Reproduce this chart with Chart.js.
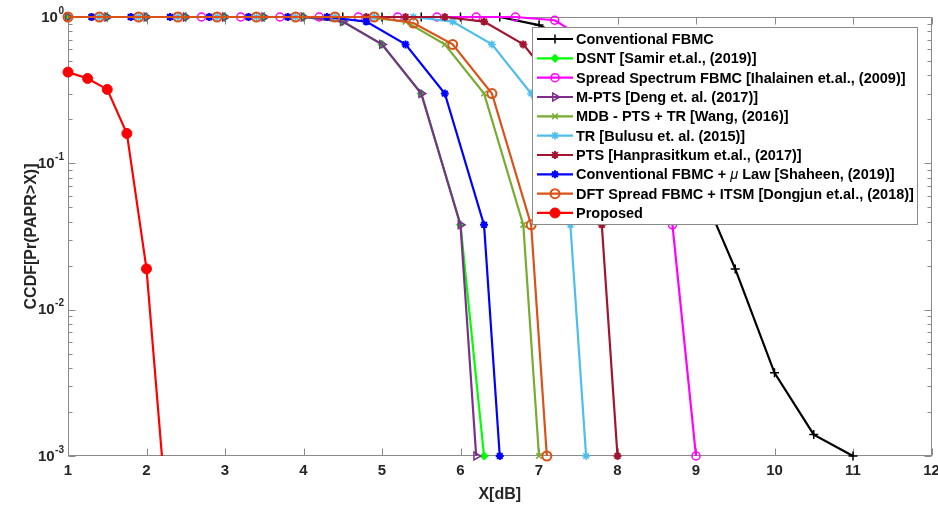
<!DOCTYPE html>
<html>
<head>
<meta charset="utf-8">
<script src="https://cdn.jsdelivr.net/npm/chart.js@4.4.0/dist/chart.umd.min.js"></script>
<style>
  html, body { margin: 0; padding: 0; background: #fff; }
  canvas { display: block; }
</style>
</head>
<body>
<canvas id="c" width="938" height="506"></canvas>
<script>
// ---- Dados ----
const seriesNames = [
  'Conventional FBMC',
  'DSNT [Samir et.al., (2019)]',
  'Spread Spectrum FBMC [Ihalainen et.al., (2009)]',
  'M-PTS [Deng et. al. (2017)]',
  'MDB - PTS + TR [Wang, (2016)]',
  'TR [Bulusu et. al. (2015)]',
  'PTS [Hanprasitkum et.al., (2017)]',
  'Conventional FBMC + \u03bc Law [Shaheen, (2019)]',
  'DFT Spread FBMC + ITSM [Dongjun et.al., (2018)]',
  'Proposed'
];

const convX = [1, 1.5, 2, 2.5, 3, 3.5, 4, 4.5, 5, 5.5, 6, 6.5, 7, 7.5, 8, 8.5, 9, 9.5, 10, 10.5, 11];
const convY = [1, 1, 1, 1, 1, 1, 1, 1, 1, 1, 1, 1, 0.88, 0.65, 0.4, 0.2, 0.08, 0.019, 0.0037, 0.0014, 0.001];

const dsntX = [1, 1.5, 2, 2.5, 3, 3.5, 4, 4.5, 5, 5.5, 6, 6.3];
const dsntY = [1, 1, 1, 1, 1, 1, 1, 0.93, 0.65, 0.3, 0.038, 0.001];

const spreadX = [2.7, 3.2, 3.7, 4.2, 4.7, 5.2, 5.7, 6.2, 6.7, 7.2, 7.7, 8.2, 8.7, 9.0];
const spreadY = [1, 1, 1, 1, 1, 1, 1, 1, 1, 0.95, 0.65, 0.3, 0.038, 0.001];

const mptsX = [1, 1.5, 2, 2.5, 3, 3.5, 4, 4.5, 5, 5.5, 6, 6.2];
const mptsY = [1, 1, 1, 1, 1, 1, 1, 0.93, 0.65, 0.3, 0.038, 0.001];

const mdbX = [1.3, 1.8, 2.3, 2.8, 3.3, 3.8, 4.3, 4.8, 5.3, 5.8, 6.3, 6.8, 7.0];
const mdbY = [1, 1, 1, 1, 1, 1, 1, 1, 0.93, 0.65, 0.3, 0.038, 0.001];

const trX = [1.4, 1.9, 2.4, 2.9, 3.4, 3.9, 4.4, 4.9, 5.4, 5.9, 6.4, 6.9, 7.4, 7.6];
const trY = [1, 1, 1, 1, 1, 1, 1, 1, 1, 0.93, 0.65, 0.3, 0.038, 0.001];

const ptsX = [1.3, 1.8, 2.3, 2.8, 3.3, 3.8, 4.3, 4.8, 5.3, 5.8, 6.3, 6.8, 7.3, 7.8, 8.0];
const ptsY = [1, 1, 1, 1, 1, 1, 1, 1, 1, 1, 0.93, 0.65, 0.3, 0.038, 0.001];

const muLawX = [1.3, 1.8, 2.3, 2.8, 3.3, 3.8, 4.3, 4.8, 5.3, 5.8, 6.3, 6.5];
const muLawY = [1, 1, 1, 1, 1, 1, 1, 0.93, 0.65, 0.3, 0.038, 0.001];

const dftX = [1, 1.4, 1.9, 2.4, 2.9, 3.4, 3.9, 4.4, 4.9, 5.4, 5.9, 6.4, 6.9, 7.1];
const dftY = [1, 1, 1, 1, 1, 1, 1, 1, 1, 0.91, 0.65, 0.3, 0.038, 0.001];

const propX = [1, 1.25, 1.5, 1.75, 2, 2.25];
const propY = [0.42, 0.38, 0.32, 0.16, 0.019, 0.00045];

const xTicks = [1, 2, 3, 4, 5, 6, 7, 8, 9, 10, 11, 12];
const yTicks = [1, 0.1, 0.01, 0.001];
const yTickExp = ['0', '-1', '-2', '-3'];

// ---- Estilos ----
const FONT = '"Liberation Sans", Arial, Helvetica, sans-serif';
const axisGray = '#8a8a8a';
const textGray = '#262626';

const styles = [
  { color: '#000000', pointStyle: 'cross',    radius: 4.5, fill: '#000000', bw: 1.5 },
  { color: '#00ff00', pointStyle: 'rectRot',  radius: 3.5, fill: '#00ff00', bw: 1.5 },
  { color: '#ff00ff', pointStyle: 'circle',   radius: 4,   fill: 'rgba(0,0,0,0)', bw: 1.5 },
  { color: '#7e2f8e', pointStyle: 'triangle', radius: 4.5, fill: 'rgba(0,0,0,0)', bw: 1.5, rot: 90 },
  { color: '#77ac30', pointStyle: 'crossRot', radius: 4,   fill: '#77ac30', bw: 1.5 },
  { color: '#4dbeee', pointStyle: 'star',     radius: 4,   fill: '#4dbeee', bw: 1.5 },
  { color: '#a2142f', pointStyle: 'star',     radius: 4,   fill: '#a2142f', bw: 2 },
  { color: '#0000ff', pointStyle: 'star',     radius: 4,   fill: '#0000ff', bw: 2 },
  { color: '#d95319', pointStyle: 'circle',   radius: 4.5, fill: 'rgba(0,0,0,0)', bw: 2 },
  { color: '#ff0000', pointStyle: 'circle',   radius: 5,   fill: '#ff0000', bw: 1 }
];

const xs = [convX, dsntX, spreadX, mptsX, mdbX, trX, ptsX, muLawX, dftX, propX];
const ys = [convY, dsntY, spreadY, mptsY, mdbY, trY, ptsY, muLawY, dftY, propY];

const datasets = seriesNames.map((name, i) => {
  const s = styles[i];
  return {
    label: name,
    data: xs[i].map((x, k) => ({ x: x, y: ys[i][k] })),
    borderColor: s.color,
    borderWidth: 2.2,
    pointStyle: s.pointStyle,
    pointRadius: s.radius,
    pointRotation: s.rot || 0,
    pointBackgroundColor: s.fill,
    pointBorderColor: s.color,
    pointBorderWidth: s.bw,
    tension: 0,
    order: seriesNames.length - i,
    // a curva Proposed desce abaixo de 1e-3: corta só embaixo
    clip: i === seriesNames.length - 1 ? { left: 10, top: 10, right: 10, bottom: 0 } : false
  };
});

// ---- Caixa, ticks internos e rótulos 10^n (estilo MATLAB) ----
const boxPlugin = {
  id: 'box',
  beforeDatasetsDraw(chart) {
    const { ctx, chartArea: a, scales: { x, y } } = chart;
    ctx.save();
    ctx.strokeStyle = axisGray;
    ctx.lineWidth = 1;
    const L = Math.round(a.left) + 0.5, R = Math.round(a.right) - 0.5;
    const T = Math.round(a.top) + 0.5, B = Math.round(a.bottom) - 0.5;
    ctx.strokeRect(L, T, R - L, B - T);
    ctx.beginPath();
    xTicks.forEach(v => {
      const px = Math.round(x.getPixelForValue(v)) + 0.5;
      ctx.moveTo(px, B); ctx.lineTo(px, B - 7);
      ctx.moveTo(px, T); ctx.lineTo(px, T + 7);
    });
    for (let e = -3; e <= 0; e++) {
      for (let m = 1; m <= 9; m++) {
        const v = m * Math.pow(10, e);
        if (v > 1.0001) break;
        const py = Math.round(y.getPixelForValue(v)) + 0.5;
        const len = m === 1 ? 7 : 4;
        ctx.moveTo(L, py); ctx.lineTo(L + len, py);
        ctx.moveTo(R, py); ctx.lineTo(R - len, py);
      }
    }
    ctx.stroke();

    // rótulos do eixo y
    ctx.fillStyle = textGray;
    ctx.textAlign = 'right';
    ctx.textBaseline = 'middle';
    yTicks.forEach((v, i) => {
      const py = y.getPixelForValue(v);
      const rx = 64;
      ctx.font = 'bold 10px ' + FONT;
      const ew = ctx.measureText(yTickExp[i]).width;
      ctx.fillText(yTickExp[i], rx, py - 6);
      ctx.font = 'bold 15px ' + FONT;
      ctx.fillText('10', rx - ew - 0.5, py + 0.5);
    });
    ctx.restore();
  }
};

// ---- Legenda desenhada dentro do gráfico ----
const legendPlugin = {
  id: 'boxLegend',
  afterDraw(chart) {
    const { ctx } = chart;
    const left = 532, top = 27, right = 918, bottom = 225;
    ctx.save();
    ctx.fillStyle = '#ffffff';
    ctx.fillRect(left, top, right - left, bottom - top);
    ctx.strokeStyle = axisGray;
    ctx.lineWidth = 1;
    ctx.strokeRect(left + 0.5, top + 0.5, right - left - 1, bottom - top - 1);
    const rowH = 19.33;
    chart.data.datasets.forEach((ds, i) => {
      const cy = top + 12 + i * rowH;
      ctx.strokeStyle = ds.borderColor;
      ctx.lineWidth = 2.2;
      ctx.beginPath();
      ctx.moveTo(537, cy); ctx.lineTo(573, cy);
      ctx.stroke();
      ctx.fillStyle = ds.pointBackgroundColor;
      ctx.strokeStyle = ds.pointBorderColor;
      ctx.lineWidth = ds.pointBorderWidth;
      Chart.helpers.drawPoint(ctx, {
        pointStyle: ds.pointStyle, rotation: ds.pointRotation,
        radius: ds.pointRadius, borderWidth: ds.pointBorderWidth
      }, 555, cy);
      ctx.fillStyle = '#000000';
      ctx.textBaseline = 'middle';
      ctx.textAlign = 'left';
      const bold = 'bold 14.5px ' + FONT;
      const parts = ds.label.split('\u03bc');
      ctx.font = bold;
      let tx = 576;
      ctx.fillText(parts[0], tx, cy + 1);
      if (parts.length > 1) {
        tx += ctx.measureText(parts[0]).width;
        ctx.font = 'italic 14.5px ' + FONT;
        ctx.fillText('\u03bc', tx, cy + 1);
        tx += ctx.measureText('\u03bc').width;
        ctx.font = bold;
        ctx.fillText(parts[1], tx, cy + 1);
      }
    });
    ctx.restore();
  }
};

new Chart(document.getElementById('c'), {
  type: 'line',
  data: { datasets: datasets },
  options: {
    responsive: false,
    animation: false,
    devicePixelRatio: 1,
    layout: { padding: { top: 17, right: 6, bottom: 0, left: 0 } },
    plugins: { legend: { display: false }, tooltip: { enabled: false } },
    scales: {
      x: {
        type: 'linear', min: 1, max: 12,
        grid: { display: false, drawTicks: false },
        border: { display: false },
        afterBuildTicks: s => { s.ticks = xTicks.map(v => ({ value: v })); },
        ticks: {
          autoSkip: false, maxRotation: 0, padding: 6,
          color: textGray, font: { family: FONT, size: 15, weight: 'bold' }
        },
        title: {
          display: true, text: 'X[dB]', color: textGray,
          font: { family: FONT, size: 16, weight: 'bold' },
          padding: { top: 0, bottom: 2 }
        },
        afterFit: s => { s.height = 50; s.paddingLeft = 0; s.paddingRight = 0; }
      },
      y: {
        type: 'logarithmic', min: 0.001, max: 1,
        grid: { display: false, drawTicks: false },
        border: { display: false },
        afterBuildTicks: s => { s.ticks = yTicks.map(v => ({ value: v })); },
        ticks: { display: false },
        title: {
          display: true, text: 'CCDF[Pr(PAPR>X)]', color: textGray,
          font: { family: FONT, size: 16, weight: 'bold' },
          padding: { top: 22, bottom: 0 }
        },
        afterFit: s => { s.width = 68; s.paddingTop = 0; s.paddingBottom = 0; }
      }
    }
  },
  plugins: [boxPlugin, legendPlugin]
});
</script>
</body>
</html>
